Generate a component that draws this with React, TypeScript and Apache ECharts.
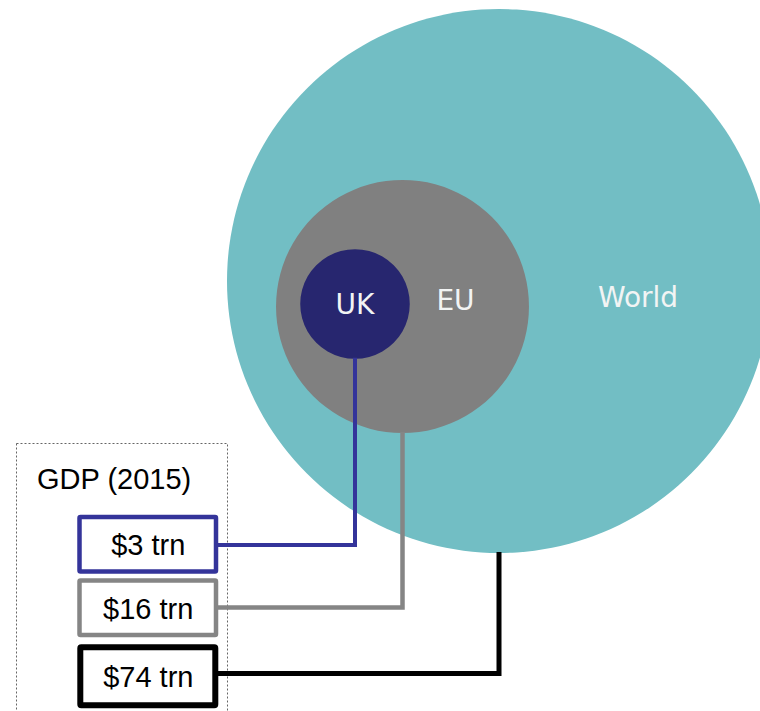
import React, { useEffect, useRef } from "react";
import * as echarts from "echarts";

// ---- data ----
const REGIONS = ["UK", "EU", "World"];
const GDP_TRN = [3, 16, 74];
const TITLE = "GDP (2015)";

// ---- layout / style ----
const W = 760;
const H = 711;
const CENTERS = [
  [355, 304],
  [402.5, 306.5],
  [499, 281],
];
const WORLD_RADIUS = 272;
const CIRCLE_COLORS = ["#27266f", "#808080", "#72bec4"];
const LINE_COLORS = ["#34349a", "#858585", "#000000"];
const LINE_WIDTHS = [4, 4.5, 5];
const CONNECTOR_Y = [545, 607.5, 673.5];
const BOX_RIGHT = 216;
const BOXES = [
  { x: 79.5, y: 517, w: 136.5, h: 54.5, lw: 4.5 },
  { x: 79.5, y: 580.5, w: 136.5, h: 54.5, lw: 4.5 },
  { x: 80.3, y: 647.3, w: 135, h: 58, lw: 6 },
];
const LABEL_OFFSETS = [
  [0, 0],
  [53, -6],
  [139, 16],
];

const radiusOf = (v: number) => WORLD_RADIUS * Math.sqrt(v / GDP_TRN[2]);

export default function App() {
  const ref = useRef<HTMLDivElement>(null);
  useEffect(() => {
    if (!ref.current) return;
    const chart = echarts.init(ref.current, undefined, { renderer: "svg" });

    const circleSeries = [2, 1, 0].map((i, k) => ({
      type: "scatter",
      silent: true,
      z: 2 + k,
      data: [
        {
          name: REGIONS[i],
          value: [CENTERS[i][0], CENTERS[i][1], GDP_TRN[i]],
        },
      ],
      symbol: "circle",
      symbolSize: (val: number[]) => 2 * radiusOf(val[2]),
      itemStyle: { color: CIRCLE_COLORS[i], opacity: 1 },
      label: {
        show: true,
        position: "inside",
        formatter: REGIONS[i],
        offset: LABEL_OFFSETS[i],
        color: "#f2f4f4",
        fontSize: 28,
        fontFamily: "'DejaVu Sans', Verdana, sans-serif",
        fontWeight: "normal",
      },
    }));

    const lineSeries = REGIONS.map((name, i) => {
      const r = radiusOf(GDP_TRN[i]);
      return {
        type: "line",
        silent: true,
        z: 10,
        symbol: "none",
        data: [
          [CENTERS[i][0], CENTERS[i][1] + r - 1],
          [CENTERS[i][0], CONNECTOR_Y[i]],
          [BOX_RIGHT, CONNECTOR_Y[i]],
        ],
        lineStyle: {
          color: LINE_COLORS[i],
          width: LINE_WIDTHS[i],
          join: "miter",
          cap: "butt",
        },
      };
    });

    const graphics: any[] = [
      {
        type: "rect",
        z: 1,
        shape: { x: 16.5, y: 443.5, width: 211, height: 320 },
        style: { fill: "none", stroke: "#666", lineWidth: 1, lineDash: [2, 2] },
      },
      {
        type: "text",
        z: 20,
        x: 37,
        y: 479,
        style: {
          text: TITLE,
          font: "29px 'Liberation Sans', Arial, sans-serif",
          fill: "#000",
          align: "left",
          verticalAlign: "middle",
          textAlign: "left",
          textVerticalAlign: "middle",
        },
      },
    ];
    BOXES.forEach((b, i) => {
      graphics.push({
        type: "rect",
        z: 20,
        shape: { x: b.x, y: b.y, width: b.w, height: b.h, r: 1 },
        style: { fill: "#fff", stroke: LINE_COLORS[i], lineWidth: b.lw },
      });
      graphics.push({
        type: "text",
        z: 21,
        x: b.x + b.w / 2 + 0.5,
        y: b.y + b.h / 2 + 1,
        style: {
          text: `$${GDP_TRN[i]} trn`,
          font: "29px 'Liberation Sans', Arial, sans-serif",
          fill: "#000",
          align: "center",
          verticalAlign: "middle",
          textAlign: "center",
          textVerticalAlign: "middle",
        },
      });
    });

    chart.setOption({
      animation: false,
      backgroundColor: "#ffffff",
      grid: { left: 0, right: 0, top: 0, bottom: 0 },
      xAxis: { type: "value", min: 0, max: W, show: false },
      yAxis: { type: "value", min: 0, max: H, inverse: true, show: false },
      series: [...circleSeries, ...lineSeries],
      graphic: graphics,
    } as any);

    return () => chart.dispose();
  }, []);

  return (
    <div
      ref={ref}
      style={{ position: "absolute", left: 0, top: 0, width: W, height: H }}
    />
  );
}
